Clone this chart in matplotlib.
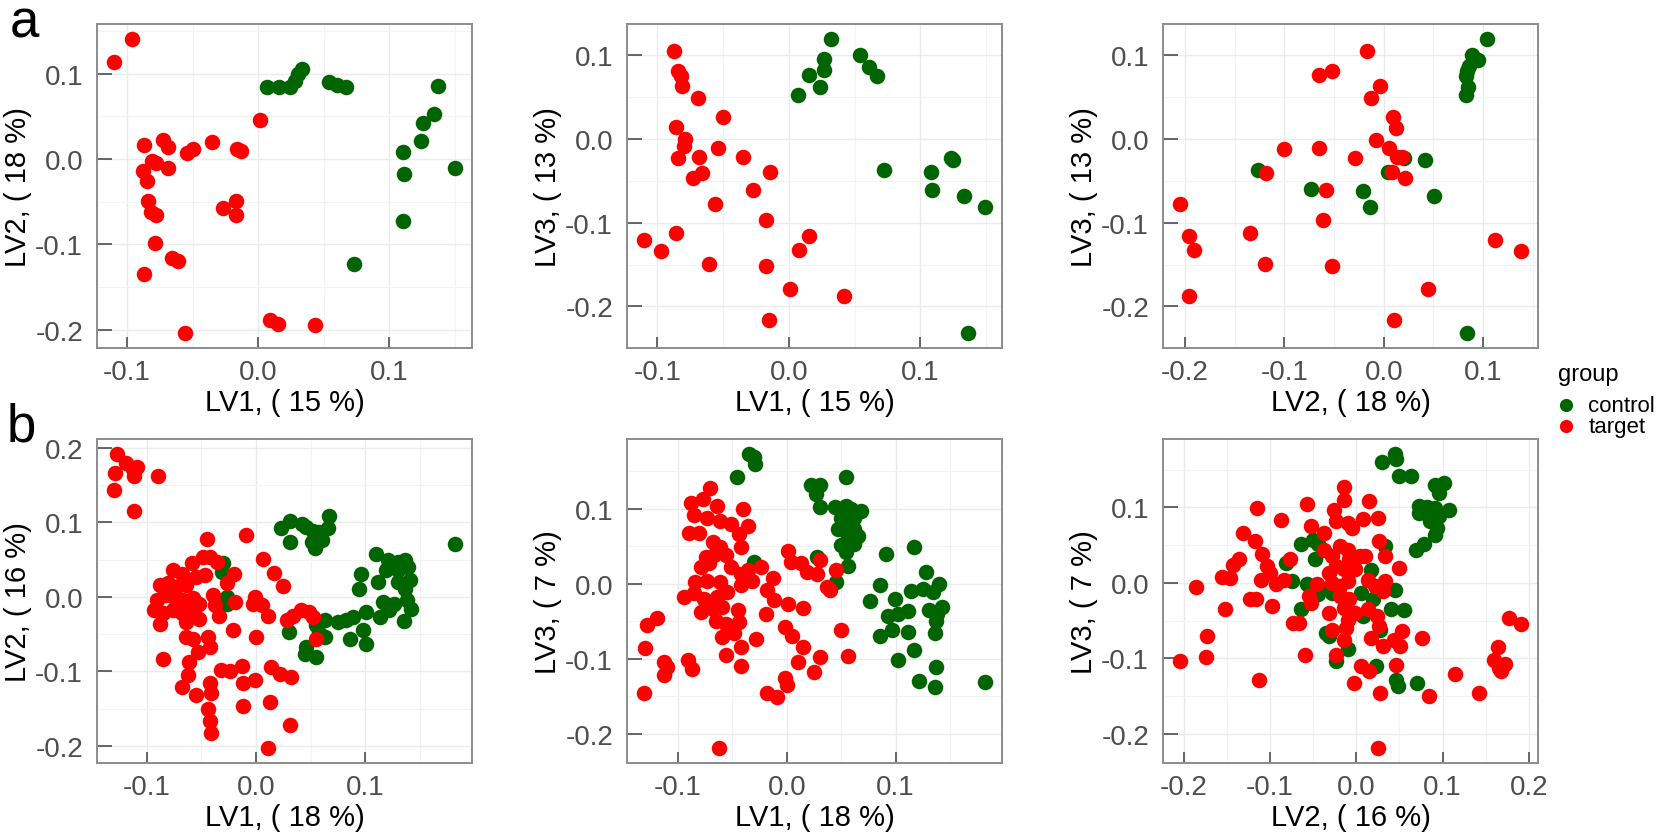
import matplotlib
matplotlib.use("Agg")
import matplotlib.pyplot as plt
from matplotlib.ticker import MultipleLocator, FormatStrFormatter

plt.rcParams['font.family'] = ['Liberation Sans', 'DejaVu Sans']
plt.rcParams['axes.unicode_minus'] = False

# ---- fila a : LV1 vs LV2 ----
a12_target_x = [-0.110, -0.096, -0.087, -0.088, -0.085, -0.081, -0.078, -0.073, -0.069, -0.069,
                -0.084, -0.082, -0.078, -0.079, -0.066, -0.061, -0.087, -0.054, -0.050, -0.035,
                -0.016, -0.013, -0.027, -0.017, -0.017, 0.001, 0.009, 0.015, 0.043, -0.056]
a12_target_y = [0.114, 0.141, 0.016, -0.014, -0.026, -0.002, -0.005, 0.022, 0.014, -0.010,
                -0.049, -0.062, -0.065, -0.098, -0.116, -0.119, -0.134, 0.007, 0.012, 0.020,
                0.012, 0.009, -0.057, -0.049, -0.066, 0.046, -0.189, -0.193, -0.194, -0.204]
a12_control_x = [0.007, 0.016, 0.024, 0.028, 0.030, 0.033, 0.054, 0.060, 0.067, 0.137,
                 0.134, 0.126, 0.124, 0.110, 0.111, 0.150, 0.110, 0.073]
a12_control_y = [0.085, 0.085, 0.085, 0.092, 0.100, 0.106, 0.090, 0.087, 0.084, 0.086,
                 0.053, 0.042, 0.021, 0.008, -0.018, -0.011, -0.072, -0.123]

# ---- fila a : LV1 vs LV3 ----
a13_target_x = [-0.087, -0.084, -0.082, -0.081, -0.069, -0.050, -0.086, -0.079, -0.080, -0.084,
                -0.068, -0.054, -0.073, -0.066, -0.056, -0.035, -0.027, -0.014, -0.017, 0.015,
                0.008, -0.017, 0.001, -0.015, 0.042, -0.110, -0.097, -0.086, -0.061]
a13_target_y = [0.105, 0.081, 0.076, 0.064, 0.049, 0.026, 0.014, 0.000, -0.008, -0.022,
                -0.021, -0.011, -0.046, -0.040, -0.078, -0.021, -0.061, -0.039, -0.097, -0.116,
                -0.132, -0.152, -0.179, -0.216, -0.188, -0.120, -0.134, -0.112, -0.149]
a13_control_x = [0.032, 0.027, 0.027, 0.015, 0.024, 0.007, 0.054, 0.061, 0.067, 0.072,
                 0.108, 0.109, 0.123, 0.125, 0.133, 0.149, 0.136]
a13_control_y = [0.120, 0.096, 0.083, 0.077, 0.062, 0.053, 0.100, 0.086, 0.075, -0.037,
                 -0.039, -0.061, -0.022, -0.025, -0.068, -0.081, -0.232]

# ---- fila a : LV2 vs LV3 ----
a23_target_x = [-0.205, -0.196, -0.191, -0.196, -0.135, -0.120, -0.100, -0.119, -0.065, -0.052,
                -0.065, -0.058, -0.061, -0.052, -0.029, -0.017, -0.004, -0.013, 0.009, 0.012,
                -0.008, 0.005, 0.013, 0.018, 0.008, 0.021, 0.010, 0.044, 0.112, 0.138]
a23_target_y = [-0.078, -0.116, -0.132, -0.188, -0.112, -0.149, -0.012, -0.041, 0.077, 0.081,
                -0.011, -0.061, -0.097, -0.152, -0.023, 0.105, 0.064, 0.049, 0.026, 0.013,
                -0.001, -0.010, -0.021, -0.021, -0.039, -0.046, -0.216, -0.179, -0.120, -0.134]
a23_control_x = [0.104, 0.089, 0.095, 0.086, 0.084, 0.083, 0.085, 0.083, 0.084, 0.041,
                 0.051, -0.021, -0.014, 0.004, 0.020, -0.073, -0.127]
a23_control_y = [0.120, 0.100, 0.095, 0.088, 0.082, 0.076, 0.062, 0.053, -0.232, -0.025,
                 -0.068, -0.062, -0.081, -0.039, -0.023, -0.060, -0.037]

# ---- fila b : LV1 vs LV2 ----
b12_target_x = [-0.127, -0.129, -0.119, -0.113, -0.109, -0.112, -0.090, -0.130, -0.112,
                -0.045, -0.009, -0.059, -0.049, -0.042, -0.036, -0.076, -0.068, -0.055, -0.047,
                -0.088, -0.081, -0.073, -0.064, -0.082, -0.091, -0.075, -0.067, -0.058, -0.052,
                -0.093, -0.085, -0.076, -0.068, -0.059, -0.052, -0.088, -0.064, -0.039, -0.038,
                -0.034, -0.027, -0.020, -0.019, 0.006, 0.016, 0.025, -0.001, -0.003, 0.005,
                0.011, 0.028, 0.034, 0.041, 0.048, 0.052, 0.055, -0.021, 0.000, -0.064,
                -0.058, -0.044, -0.042, -0.053, -0.061, -0.085, -0.062, -0.068, -0.055, -0.042,
                -0.041, -0.044, -0.042, -0.041, -0.032, -0.024, -0.013, -0.012, -0.001, -0.012,
                0.014, 0.022, 0.032, 0.013, 0.031, 0.011]
b12_target_y = [0.192, 0.166, 0.179, 0.172, 0.174, 0.162, 0.162, 0.143, 0.115,
                0.077, 0.083, 0.046, 0.054, 0.054, 0.047, 0.036, 0.031, 0.027, 0.029,
                0.016, 0.018, 0.013, 0.016, 0.002, -0.004, 0.000, -0.004, -0.002, -0.009,
                -0.018, -0.022, -0.018, -0.022, -0.018, -0.029, -0.036, -0.033, 0.002, -0.011,
                -0.025, 0.018, 0.031, -0.007, 0.051, 0.032, 0.014, 0.000, -0.009, -0.011,
                -0.025, -0.031, -0.025, -0.018, -0.020, -0.027, -0.057, -0.045, -0.054, -0.054,
                -0.056, -0.054, -0.067, -0.074, -0.087, -0.083, -0.105, -0.121, -0.132, -0.116,
                -0.129, -0.150, -0.167, -0.183, -0.098, -0.100, -0.093, -0.116, -0.112, -0.146,
                -0.094, -0.103, -0.107, -0.141, -0.172, -0.203]
b12_control_x = [0.023, 0.031, 0.042, 0.046, 0.052, 0.058, 0.066, 0.067, 0.031, 0.051,
                 0.054, 0.060, 0.057, 0.182, -0.030, -0.031, -0.027, -0.027,
                 0.110, 0.121, 0.130, 0.136, 0.139, 0.130, 0.119, 0.112, 0.096, 0.094,
                 0.130, 0.141, 0.136, 0.116, 0.126, 0.138, 0.142, 0.122, 0.113, 0.101,
                 0.089, 0.082, 0.075, 0.135, 0.098, 0.101, 0.086, 0.063, 0.055, 0.058,
                 0.063, 0.030, 0.046, 0.045, 0.055]
b12_control_y = [0.093, 0.102, 0.098, 0.094, 0.089, 0.087, 0.092, 0.109, 0.074, 0.074,
                 0.065, 0.076, 0.080, 0.071, 0.045, 0.033, 0.000, -0.009,
                 0.058, 0.050, 0.047, 0.050, 0.040, 0.036, 0.036, 0.020, 0.031, 0.010,
                 0.020, 0.022, 0.011, -0.007, -0.009, -0.004, -0.016, -0.018, -0.027, -0.020,
                 -0.027, -0.031, -0.033, -0.032, -0.045, -0.063, -0.056, -0.031, -0.038, -0.049,
                 -0.054, -0.047, -0.067, -0.077, -0.080]

# ---- fila b : LV1 vs LV3 ----
b13_target_x = [-0.070, -0.088, -0.077, -0.064, -0.040, -0.085, -0.073, -0.061, -0.051, -0.036,
                -0.090, -0.081, -0.044, -0.068, -0.061, -0.042, -0.074, -0.067, -0.056, -0.079,
                -0.071, -0.051, -0.042, -0.036, -0.024, -0.084, -0.073, -0.061, -0.042, -0.032,
                -0.013, -0.094, -0.085, -0.076, -0.064, -0.055, -0.079, -0.068, -0.059, -0.045,
                -0.065, -0.056, -0.044, -0.059, -0.048, -0.042, -0.028, -0.056, -0.042, -0.091,
                -0.087, -0.019, -0.012, -0.018, 0.001, 0.015, -0.002, 0.005, 0.015, 0.010,
                0.025, 0.031, -0.002, 0.000, -0.018, -0.009, 0.050, 0.056, 0.001, 0.004,
                0.013, 0.019, 0.028, 0.031, 0.037, 0.040, 0.045, -0.062, -0.131, -0.130,
                -0.128, -0.119, -0.113, -0.113, -0.110]
b13_target_y = [0.127, 0.108, 0.113, 0.104, 0.100, 0.091, 0.088, 0.084, 0.080, 0.077,
                0.067, 0.067, 0.066, 0.055, 0.049, 0.049, 0.035, 0.038, 0.038, 0.022,
                0.027, 0.022, 0.013, 0.018, 0.022, 0.002, 0.004, 0.002, -0.002, 0.004,
                0.007, -0.018, -0.013, -0.020, -0.018, -0.011, -0.038, -0.033, -0.031, -0.035,
                -0.049, -0.053, -0.051, -0.071, -0.066, -0.084, -0.073, -0.095, -0.109, -0.102,
                -0.113, -0.040, -0.022, -0.009, -0.027, -0.032, -0.057, -0.069, -0.084, -0.104,
                -0.117, -0.097, -0.126, -0.135, -0.145, -0.151, -0.062, -0.096, 0.044, 0.029,
                0.027, 0.015, 0.013, 0.031, -0.004, -0.008, 0.018, -0.219, -0.146, -0.086,
                -0.055, -0.046, -0.104, -0.122, -0.111]
b13_control_x = [-0.035, -0.030, -0.029, -0.046, 0.054, 0.022, 0.031, 0.027, 0.031, 0.044,
                 0.054, 0.059, 0.068, 0.050, 0.057, 0.062, 0.047, 0.054, 0.062, 0.056,
                 0.065, 0.050, 0.062, 0.054, 0.056, 0.045, 0.028, -0.030, 0.091, 0.117,
                 0.128, 0.086, 0.076, 0.099, 0.114, 0.125, 0.134, 0.140, 0.093, 0.102,
                 0.111, 0.131, 0.138, 0.143, 0.137, 0.086, 0.097, 0.111, 0.136, 0.117,
                 0.102, 0.137, 0.121, 0.136, 0.182]
b13_control_y = [0.173, 0.168, 0.159, 0.142, 0.142, 0.131, 0.132, 0.119, 0.102, 0.102,
                 0.104, 0.100, 0.097, 0.088, 0.084, 0.088, 0.073, 0.075, 0.073, 0.062,
                 0.064, 0.051, 0.053, 0.042, 0.024, 0.002, 0.035, 0.029, 0.039, 0.049,
                 0.015, -0.002, -0.023, -0.020, -0.010, -0.007, -0.011, -0.001, -0.043, -0.040,
                 -0.036, -0.035, -0.040, -0.031, -0.049, -0.069, -0.062, -0.064, -0.066, -0.088,
                 -0.102, -0.111, -0.130, -0.138, -0.131]

# ---- fila b : LV2 vs LV3 ----
b23_target_x = [-0.2045, -0.186, -0.173, -0.174, -0.156, -0.146, -0.152, -0.143, -0.136, -0.132,
                -0.118, -0.115, -0.123, -0.116, -0.109, -0.111, -0.104, -0.100, -0.093, -0.098,
                -0.087, -0.113, -0.084, -0.077, -0.073, -0.066, -0.060, -0.057, -0.053, -0.055,
                -0.053, -0.046, -0.037, -0.026, -0.032, -0.028, -0.023, -0.014, -0.014, -0.023,
                -0.010, -0.005, 0.008, 0.015, 0.025, -0.037, -0.028, -0.019, -0.010, -0.023,
                -0.032, -0.014, -0.008, -0.001, 0.004, 0.010, -0.028, -0.019, -0.010, -0.019,
                -0.008, -0.014, -0.001, -0.010, -0.012, -0.014, 0.013, 0.024, 0.026, 0.017,
                0.013, 0.022, 0.031, 0.033, 0.026, 0.033, 0.049, 0.031, 0.044, 0.053,
                0.051, 0.076, 0.046, 0.006, 0.015, -0.003, 0.028, 0.084, 0.025, 0.114,
                0.142, 0.164, 0.160, 0.165, 0.172, 0.168, 0.177, 0.191]
b23_target_y = [-0.104, -0.005, -0.071, -0.098, 0.008, 0.007, -0.035, 0.024, 0.032, 0.066,
                0.055, 0.099, -0.022, -0.022, 0.038, 0.004, 0.022, 0.013, -0.002, -0.031,
                0.083, -0.128, 0.004, 0.031, -0.053, -0.053, -0.096, 0.104, 0.075, -0.018,
                -0.026, -0.002, 0.066, 0.097, -0.040, -0.062, -0.095, 0.127, 0.110, 0.082,
                0.079, 0.073, 0.084, 0.108, 0.086, 0.044, 0.035, 0.049, 0.044, 0.022,
                0.013, 0.018, 0.031, 0.018, 0.035, 0.036, 0.000, -0.004, 0.002, -0.018,
                -0.022, -0.033, -0.040, -0.049, -0.060, -0.075, -0.035, -0.044, -0.057, -0.073,
                0.004, -0.004, -0.011, 0.002, 0.055, 0.035, 0.020, -0.084, -0.075, -0.064,
                -0.084, -0.073, -0.109, -0.110, -0.117, -0.133, -0.146, -0.150, -0.219, -0.120,
                -0.146, -0.085, -0.102, -0.113, -0.108, -0.117, -0.046, -0.055]
b23_control_x = [0.030, 0.045, 0.046, 0.050, 0.064, 0.091, 0.102, 0.096, 0.073, 0.082,
                 0.091, 0.107, 0.073, 0.087, 0.096, 0.085, 0.094, 0.091, 0.078, 0.069,
                 -0.064, -0.050, -0.044, -0.048, -0.081, -0.075, -0.057, -0.044, -0.064, -0.032,
                 -0.028, -0.035, -0.032, -0.023, -0.010, 0.017, 0.006, 0.019, 0.008, 0.028,
                 0.033, 0.045, 0.040, 0.055, 0.023, 0.046, 0.048, 0.070]
b23_control_y = [0.160, 0.171, 0.164, 0.142, 0.142, 0.129, 0.132, 0.119, 0.102, 0.101,
                 0.099, 0.097, 0.093, 0.091, 0.088, 0.082, 0.073, 0.064, 0.052, 0.044,
                 0.051, 0.057, 0.051, 0.031, 0.026, 0.002, -0.002, -0.015, -0.035, -0.007,
                 -0.013, -0.066, -0.071, -0.104, -0.088, 0.017, -0.013, -0.022, -0.044, -0.062,
                 0.049, -0.009, -0.035, -0.036, -0.110, -0.128, -0.137, -0.132]

verde = '#006400'
rojo = '#ff0000'
W, H = 1670, 837
fig = plt.figure(figsize=(W / 100, H / 100), dpi=100)

cols = [97, 627, 1163]
rows = [25, 440]
ancho, alto = 375, 324


def panel(col, row, tx, ty, cx, cy, xlab, ylab):
    ax = fig.add_axes([cols[col] / W, 1 - (rows[row] + alto) / H, ancho / W, alto / H])
    ax.scatter(cx, cy, s=125, color=verde, linewidths=0, zorder=3, label='control')
    ax.scatter(tx, ty, s=125, color=rojo, linewidths=0, zorder=3, label='target')
    ax.margins(0.05)
    for a in (ax.xaxis, ax.yaxis):
        a.set_major_locator(MultipleLocator(0.1))
        a.set_minor_locator(MultipleLocator(0.05))
        a.set_major_formatter(FormatStrFormatter('%.1f'))
    ax.grid(True, which='major', color='#ebebeb', lw=1.0, zorder=0)
    ax.grid(True, which='minor', color='#f3f3f3', lw=0.8, zorder=0)
    ax.set_axisbelow(True)
    for s in ax.spines.values():
        s.set_color('#8c8c8c')
        s.set_linewidth(1.4)
    ax.tick_params(which='major', direction='in', color='#4d4d4d', width=1.2,
                   labelsize=20, labelcolor='#4d4d4d')
    ax.tick_params(axis='x', which='major', length=8, pad=8)
    ax.tick_params(axis='y', which='major', length=11, pad=10)
    ax.tick_params(which='minor', length=0)
    ax.set_xlabel(xlab, fontsize=21, labelpad=2)
    ax.set_ylabel(ylab, fontsize=21, labelpad=2)
    return ax


ax1 = panel(0, 0, a12_target_x, a12_target_y, a12_control_x, a12_control_y, 'LV1, ( 15 %)', 'LV2, ( 18 %)')
panel(1, 0, a13_target_x, a13_target_y, a13_control_x, a13_control_y, 'LV1, ( 15 %)', 'LV3, ( 13 %)')
panel(2, 0, a23_target_x, a23_target_y, a23_control_x, a23_control_y, 'LV2, ( 18 %)', 'LV3, ( 13 %)')
panel(0, 1, b12_target_x, b12_target_y, b12_control_x, b12_control_y, 'LV1, ( 18 %)', 'LV2, ( 16 %)')
panel(1, 1, b13_target_x, b13_target_y, b13_control_x, b13_control_y, 'LV1, ( 18 %)', 'LV3, ( 7 %)')
panel(2, 1, b23_target_x, b23_target_y, b23_control_x, b23_control_y, 'LV2, ( 16 %)', 'LV3, ( 7 %)')

# leyenda: titulo aparte y entradas debajo
fig.text(1558 / W, 1 - 375 / H, 'group', fontsize=17, va='center', ha='left')
h, l = ax1.get_legend_handles_labels()
fig.legend(h, l, loc='upper left', bbox_to_anchor=(1555 / W, 1 - 396 / H), frameon=False,
           fontsize=16, borderaxespad=0, borderpad=0, handletextpad=0.5,
           labelspacing=0.0, handlelength=1.0, markerscale=0.85)

fig.text(10 / W, 1 - 38 / H, 'a', fontsize=38, va='baseline')
fig.text(7 / W, 1 - 442 / H, 'b', fontsize=38, va='baseline')

fig.savefig('out.png', dpi=100)
